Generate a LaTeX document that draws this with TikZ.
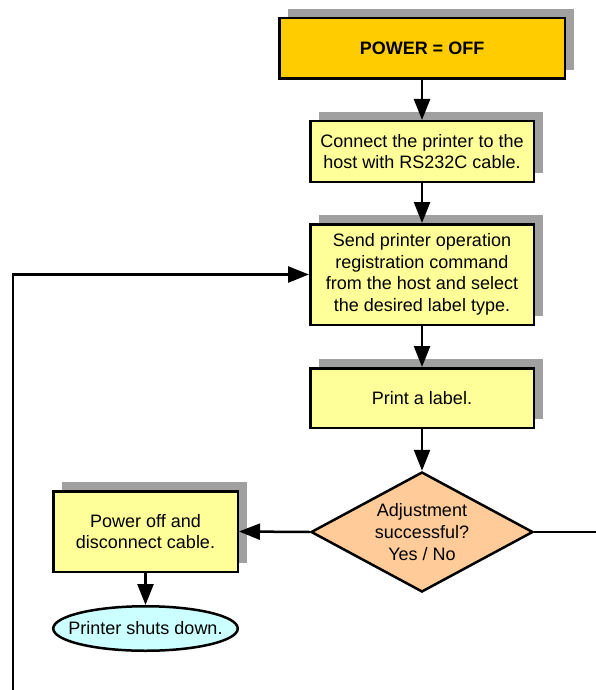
\documentclass[tikz,border=0pt]{standalone}
\usepackage{fontspec}
\setmainfont{Liberation Sans}
\usepackage{tikz}
\usetikzlibrary{arrows.meta,shapes.geometric,shadows}
\definecolor{startfill}{RGB}{255,204,0}
\definecolor{stepfill}{RGB}{255,255,153}
\definecolor{askfill}{RGB}{255,204,153}
\definecolor{endfill}{RGB}{204,255,255}
\definecolor{shadowgray}{RGB}{160,160,160}

\begin{document}
\begin{tikzpicture}[x=1pt, y=1pt, line width=2.5pt,
    >={Triangle[length=21pt,width=16pt]},
    every node/.style={font=\fontsize{18}{21.6}\selectfont, inner sep=0pt, align=center},
    boxshadow/.style={drop shadow={shadow xshift=9pt, shadow yshift=9pt,
                      opacity=1, fill=shadowgray}},
    startbox/.style={draw, rectangle, fill=startfill, boxshadow,
                     minimum width=285.5pt, minimum height=60.5pt},
    stepbox/.style={draw, rectangle, fill=stepfill, boxshadow,
                    minimum width=223.5pt},
    askbox/.style={draw, diamond, fill=askfill, shape aspect=1.8,
                   minimum width=222pt, minimum height=120pt},
    endoval/.style={draw, ellipse, fill=endfill, inner xsep=-13pt,
                    minimum width=184.5pt, minimum height=44.5pt}]
  \useasboundingbox (0,0) rectangle (596,-690);

  % main column
  \node[startbox] (power) at (422,-48.5) {\bfseries POWER = OFF};
  \node[stepbox, minimum height=60.5pt] (connect) at (422,-151.5)
       {Connect the printer to the\\host with RS232C cable.};
  \node[stepbox, minimum height=100.5pt] (send) at (422,-274.5)
       {Send printer operation\\registration command\\from the host and select\\the desired label type.};
  \node[stepbox, minimum height=59.5pt] (print) at (422,-398) {Print a label.};
  \node[askbox] (adjust) at (422,-532) {Adjustment\\successful?\\Yes / No};

  % left branch
  \node[stepbox, minimum width=184.5pt, minimum height=80.5pt] (poweroff)
       at (145.5,-531.5) {Power off and\\disconnect cable.};
  \node[endoval] (shutdown) at (145.5,-628.5) {Printer shuts down.};

  % loose ends of the loop
  \coordinate (loopbottom) at (13,-690);
  \coordinate (loopcorner) at (13,-274.5);
  \coordinate (rightend) at (596,-532);

  % connectors
  \draw[->] (power) -- (connect);
  \draw[->] (connect) -- (send);
  \draw[->] (send) -- (print);
  \draw[->] (print) -- (adjust);
  \draw[->] (adjust.west) -- (poweroff.east);
  \draw[->] (poweroff) -- (shutdown);
  \draw (adjust.east) -- (rightend);
  \draw[->] (loopbottom) -- (loopcorner) -- (send.west);
\end{tikzpicture}
\end{document}
